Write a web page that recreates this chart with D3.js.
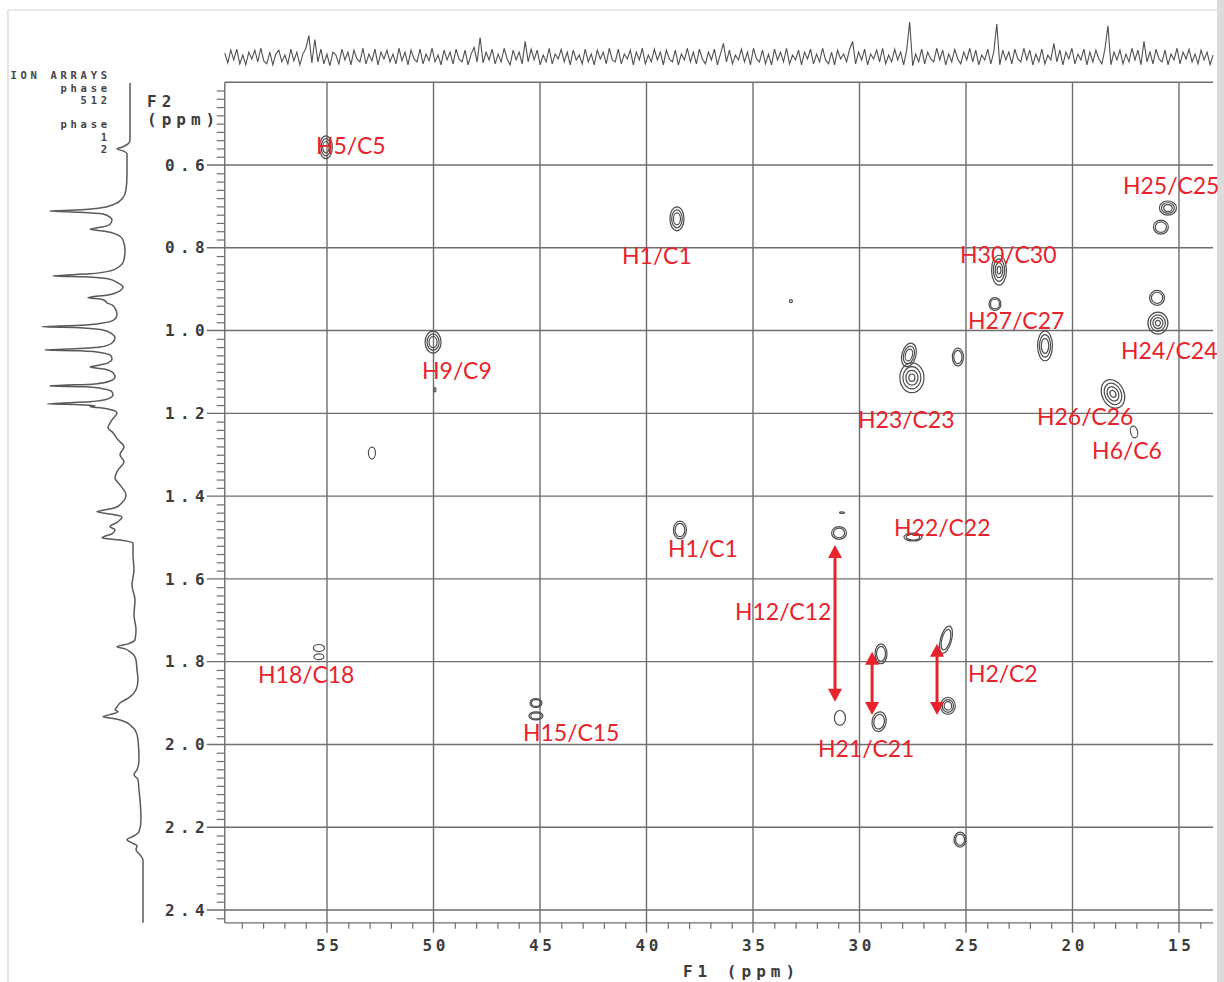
<!DOCTYPE html>
<html><head><meta charset="utf-8">
<script src="https://cdn.jsdelivr.net/npm/d3@7"></script>
<style>html,body{margin:0;padding:0;background:#fff;} svg{display:block;}</style>
</head><body>
<svg id="c" width="1224" height="982"></svg>
<script>
// ---------- data ----------
const f1Ticks = [55, 50, 45, 40, 35, 30, 25, 20, 15];
const f1TickLabels = ["55", "50", "45", "40", "35", "30", "25", "20", "15"];
const f2Ticks = [0.6, 0.8, 1.0, 1.2, 1.4, 1.6, 1.8, 2.0, 2.2, 2.4];
const f2TickLabels = ["0.6", "0.8", "1.0", "1.2", "1.4", "1.6", "1.8", "2.0", "2.2", "2.4"];
const f1Limits = [59.8, 13.4];
const f2Limits = [0.4, 2.431];
const headerLines = ["ION ARRAYS", "phase", "512", "phase", "1", "2"];
const axisTitleF2 = ["F2", "(ppm)"];
const axisTitleF1 = "F1 (ppm)";

// cross peaks: F1 ppm, F2 ppm, width (F1 ppm), height (F2 ppm), contour levels, tilt
const peakF1 = [55.05, 38.57, 33.22, 23.45, 23.64, 21.29, 15.52, 15.85, 16.03, 15.99, 50.02, 52.89, 27.54, 27.68, 25.38, 18.10, 17.11, 38.43, 30.96, 30.82, 27.49, 30.92, 28.99, 29.08, 25.94, 25.85, 55.38, 55.38, 45.19, 45.19, 25.28, 49.93];
const peakF2 = [0.557, 0.730, 0.929, 0.854, 0.936, 1.037, 0.704, 0.750, 0.921, 0.982, 1.028, 1.296, 1.114, 1.059, 1.064, 1.153, 1.245, 1.482, 1.489, 1.440, 1.499, 1.936, 1.781, 1.945, 1.747, 1.907, 1.767, 1.788, 1.900, 1.931, 2.230, 1.143];
const peakW  = [0.60, 0.66, 0.14, 0.70, 0.56, 0.70, 0.80, 0.70, 0.70, 0.94, 0.75, 0.33, 1.13, 0.66, 0.52, 1.03, 0.33, 0.61, 0.70, 0.23, 0.85, 0.52, 0.56, 0.66, 0.52, 0.70, 0.52, 0.47, 0.56, 0.66, 0.56, 0.09];
const peakH  = [0.055, 0.058, 0.007, 0.072, 0.031, 0.072, 0.034, 0.034, 0.036, 0.053, 0.053, 0.029, 0.072, 0.058, 0.043, 0.072, 0.029, 0.043, 0.031, 0.004, 0.019, 0.036, 0.048, 0.048, 0.068, 0.041, 0.017, 0.014, 0.022, 0.019, 0.036, 0.010];
const peakLevels = [3, 3, 1, 4, 2, 3, 3, 2, 2, 4, 3, 1, 4, 3, 2, 4, 1, 2, 2, 1, 2, 1, 2, 2, 2, 3, 1, 1, 2, 2, 2, 1];
const peakTilt = [0, 0, 0, 0, 0, 0, 0, 0, 0, 0, 0, 0, 0, 15, 0, -25, -15, 0, 0, 0, 0, 0, 0, 10, 15, 0, 0, 0, 0, 0, 0, 0];

// assignment labels: text, F1 ppm of left edge, F2 ppm of centre
const labelText = ["H5/C5", "H1/C1", "H30/C30", "H25/C25", "H27/C27", "H24/C24", "H9/C9", "H23/C23", "H26/C26", "H6/C6", "H1/C1", "H22/C22", "H12/C12", "H18/C18", "H2/C2", "H15/C15", "H21/C21"];
const labelF1 = [55.52, 41.15, 25.28, 17.63, 24.91, 17.72, 50.54, 30.07, 21.67, 19.08, 38.99, 28.38, 35.85, 58.24, 24.91, 45.80, 31.95];
const labelF2 = [0.554, 0.820, 0.817, 0.651, 0.977, 1.049, 1.098, 1.216, 1.209, 1.291, 1.528, 1.477, 1.680, 1.832, 1.829, 1.972, 2.011];

// double-headed arrows: F1 ppm, F2 start, F2 end
const arrowF1 = [31.15, 29.41, 26.36];
const arrowFrom = [1.518, 1.776, 1.757];
const arrowTo = [1.897, 1.929, 1.929];

// F2 projection (left): [F2 ppm, intensity]
const f2Trace = [[0.402,15],[0.443,15],[0.491,15],[0.540,15],[0.549,17],[0.557,23],[0.561,28],[0.566,22],[0.573,18],[0.588,18],[0.624,18],[0.660,19],[0.682,23],[0.694,30],[0.704,45],[0.709,70],[0.711,95],[0.714,65],[0.718,43],[0.726,35],[0.733,33],[0.743,35],[0.750,43],[0.755,55],[0.760,40],[0.767,29],[0.781,22],[0.805,20],[0.829,21],[0.844,25],[0.856,35],[0.863,55],[0.868,92],[0.870,60],[0.875,37],[0.885,27],[0.895,22],[0.904,25],[0.914,37],[0.921,57],[0.924,45],[0.928,40],[0.933,38],[0.938,33],[0.950,29],[0.962,28],[0.974,31],[0.983,45],[0.988,70],[0.991,103],[0.993,65],[0.998,43],[1.008,33],[1.018,30],[1.030,33],[1.040,45],[1.044,70],[1.047,100],[1.049,65],[1.054,42],[1.061,34],[1.069,33],[1.078,37],[1.083,45],[1.088,55],[1.093,41],[1.102,32],[1.112,30],[1.122,35],[1.129,50],[1.134,95],[1.136,60],[1.141,41],[1.148,33],[1.156,32],[1.165,37],[1.172,55],[1.177,98],[1.179,65],[1.182,50],[1.184,55],[1.187,43],[1.192,33],[1.199,28],[1.216,33],[1.235,37],[1.247,32],[1.264,27],[1.281,21],[1.300,25],[1.317,21],[1.337,27],[1.356,30],[1.373,25],[1.397,19],[1.416,23],[1.428,30],[1.436,45],[1.438,48],[1.443,35],[1.450,23],[1.462,27],[1.474,35],[1.481,30],[1.491,33],[1.498,41],[1.501,43],[1.506,25],[1.513,12],[1.542,12],[1.578,11],[1.615,13],[1.651,10],[1.687,11],[1.723,9],[1.747,10],[1.757,17],[1.764,28],[1.769,20],[1.776,15],[1.796,9],[1.820,8],[1.844,7],[1.868,9],[1.885,15],[1.900,25],[1.909,28],[1.916,30],[1.921,27],[1.928,35],[1.933,42],[1.938,30],[1.945,20],[1.955,14],[1.965,10],[1.989,7],[2.037,6],[2.061,8],[2.073,11],[2.085,7],[2.110,6],[2.134,5],[2.182,4],[2.211,6],[2.221,11],[2.230,18],[2.238,13],[2.245,8],[2.254,9],[2.267,5],[2.279,2],[2.327,2],[2.375,2],[2.431,2]];

// F1 projection (top): intensities, evenly sampled from 59.8 to 13.4 ppm
const f1Trace = [
4,-6,7,-3,8,-7,2,-8,5,-2,7,-5,9,-4,-7,5,-8,3,7,-5,2,-7,8,-4,5,-8,3,9,22,-6,
18,-5,8,-7,3,-9,5,2,-7,8,-3,5,-8,7,-2,-5,9,-7,3,-4,8,-8,5,-2,7,-5,3,-7,9,-4,
5,-8,7,-2,-5,8,-7,3,-4,9,-5,2,-8,7,-3,5,-7,8,-2,-5,7,-8,3,10,-5,20,-6,5,-3,8,
-7,3,-5,9,-2,-8,7,-3,5,-7,16,-5,8,-3,7,-8,2,-5,9,-7,3,-2,8,-5,5,-8,7,-3,2,-7,
8,-5,3,-8,7,-2,5,-7,9,-3,-5,8,-7,3,-2,7,-8,5,-3,9,-7,2,-5,8,-3,5,-8,7,-2,-5,
7,-8,3,-3,9,-5,5,-7,8,-2,-7,5,-3,8,-8,3,14,-5,7,-7,2,-3,8,-5,5,-8,9,-2,-5,7,
-7,3,-8,8,-3,5,-5,9,-7,2,-3,7,-8,5,-2,8,-7,3,-5,9,-3,-7,5,-8,7,-2,3,-5,8,16,
-7,5,-3,8,-8,3,-2,7,-5,9,-7,2,-5,8,-3,5,-8,7,36,-9,3,-5,8,-7,5,-2,-5,9,-3,7,
-8,3,-5,8,-2,-7,5,-3,9,-5,7,-8,2,-3,8,-7,5,34,-8,7,-3,5,-7,8,-2,-5,9,-3,7,-8,
3,-5,8,-7,2,-3,14,-5,7,-8,5,-2,9,-7,3,-3,8,-8,5,-5,7,-2,-7,8,32,-8,5,-3,7,-7,
3,-5,9,-3,7,-8,16,-5,5,-7,8,-2,-5,7,-8,3,-3,9,-7,5,-2,8,-5,3,-7,7,-3,5,-8,2];

// ---------- drawing ----------
const svg = d3.select("#c");
const x = d3.scaleLinear().domain([55, 15]).range([327, 1179]);
const y = d3.scaleLinear().domain([0.6, 2.4]).range([165, 910]);
const xL = x(f1Limits[0]), xR = x(f1Limits[1]);
const yT = y(f2Limits[0]), yB = y(f2Limits[1]);
const gridColor = "#6e6e6e";
const textColor = "#3c3c3c";
const mono = "'DejaVu Sans Mono', 'Liberation Mono', monospace";

svg.append("rect").attr("width", 1224).attr("height", 982).attr("fill", "#fff");
// screenshot border
svg.append("line").attr("x1", 8).attr("x2", 1217).attr("y1", 10).attr("y2", 10).attr("stroke", "#d4d4d4").attr("stroke-width", 1.2);
svg.append("line").attr("x1", 8).attr("x2", 8).attr("y1", 10).attr("y2", 982).attr("stroke", "#d4d4d4").attr("stroke-width", 1.2);
svg.append("rect").attr("x", 1217).attr("y", 0).attr("width", 7).attr("height", 982).attr("fill", "#dcdcdc");

// header text
const headerY = [79, 91.5, 104, 128, 140.5, 153];
const hls = 3.7;
svg.append("g").selectAll("text").data(headerLines).join("text")
  .attr("x", 107 + hls).attr("y", (d, i) => headerY[i])
  .attr("text-anchor", "end")
  .attr("font-family", mono).attr("font-weight", "bold").attr("font-size", 10.5)
  .attr("letter-spacing", hls).attr("fill", "#444").text(d => d);

// F2 title
svg.append("g").selectAll("text").data(axisTitleF2).join("text")
  .attr("x", 147).attr("y", (d, i) => [107, 125][i])
  .attr("font-family", mono).attr("font-weight", "bold").attr("font-size", 16)
  .attr("letter-spacing", 5).attr("fill", textColor).text(d => d);

// grid lines
const grid = svg.append("g").attr("stroke", gridColor).attr("stroke-width", 1.4);
grid.selectAll("line.v").data(f1Ticks).join("line").attr("class", "v")
  .attr("x1", d => x(d)).attr("x2", d => x(d)).attr("y1", yT).attr("y2", yB + 10);
grid.selectAll("line.h").data(f2Ticks).join("line").attr("class", "h")
  .attr("x1", xL - 18).attr("x2", xR).attr("y1", d => y(d)).attr("y2", d => y(d));
// frame
grid.append("line").attr("x1", xL).attr("x2", xR).attr("y1", yT).attr("y2", yT);
grid.append("line").attr("x1", xL).attr("x2", xR).attr("y1", yB).attr("y2", yB);
grid.append("line").attr("x1", xL).attr("x2", xL).attr("y1", yT).attr("y2", yB);

// minor ticks via d3 axes
const minorY = d3.range(20, 122, 1).map(k => +(k * 0.02).toFixed(2)).filter(v => Math.abs(v * 5 - Math.round(v * 5)) > 1e-6);
const yMinor = svg.append("g").attr("transform", `translate(${xL},0)`)
  .call(d3.axisLeft(y).tickValues(minorY).tickSize(8).tickFormat(""));
yMinor.select(".domain").remove();
yMinor.selectAll("line").attr("stroke", gridColor).attr("stroke-width", 1.2);

const minorX = d3.range(14, 60, 1).filter(v => v % 5 !== 0);
const xMinor = svg.append("g").attr("transform", `translate(0,${yB})`)
  .call(d3.axisBottom(x).tickValues(minorX).tickSize(6).tickFormat(""));
xMinor.select(".domain").remove();
xMinor.selectAll("line").attr("stroke", gridColor).attr("stroke-width", 1.2);

// tick labels via d3 axes
const yls = 5.4;
const yLab = svg.append("g").attr("transform", `translate(${xL},0)`)
  .call(d3.axisLeft(y).tickValues(f2Ticks).tickSize(0).tickPadding(20).tickFormat((d, i) => f2TickLabels[i]));
yLab.select(".domain").remove();
yLab.selectAll("text").attr("font-family", mono).attr("font-weight", "bold").attr("font-size", 16)
  .attr("letter-spacing", yls).attr("dx", yls).attr("fill", textColor);

const xls = 3.6;
const xLab = svg.append("g").attr("transform", `translate(0,${yB})`)
  .call(d3.axisBottom(x).tickValues(f1Ticks).tickSize(0).tickPadding(17).tickFormat((d, i) => f1TickLabels[i]));
xLab.select(".domain").remove();
xLab.selectAll("text").attr("font-family", mono).attr("font-weight", "bold").attr("font-size", 16)
  .attr("letter-spacing", xls).attr("dx", xls / 2).attr("fill", textColor);

svg.append("text").attr("x", 739 + 2.5).attr("y", 977).attr("text-anchor", "middle")
  .attr("font-family", mono).attr("font-weight", "bold").attr("font-size", 16)
  .attr("letter-spacing", 5).attr("fill", textColor).text(axisTitleF1);

// top projection
const idx = d3.scaleLinear().domain([0, f1Trace.length - 1]).range(f1Limits);
const sTop = d3.scaleLinear().domain([0, 36]).range([57, 22]);
svg.append("path").datum(f1Trace)
  .attr("d", d3.line().x((d, i) => x(idx(i))).y(d => sTop(d)))
  .attr("fill", "none").attr("stroke", "#505050").attr("stroke-width", 1.1);

// left projection
const sLeft = d3.scaleLinear().domain([0, 100]).range([145, 45]);
svg.append("path").datum(f2Trace)
  .attr("d", d3.line().x(d => sLeft(d[1])).y(d => y(d[0])).curve(d3.curveMonotoneY))
  .attr("fill", "none").attr("stroke", "#5a5a5a").attr("stroke-width", 1.5);

// contours
const cg = svg.append("g").attr("fill", "none").attr("stroke", "#4d4d4d").attr("stroke-width", 1.2);
peakF1.forEach((f1, i) => {
  const cx = x(f1), cy = y(peakF2[i]);
  const rx = Math.abs(x(f1 + peakW[i] / 2) - cx);
  const ry = Math.abs(y(peakF2[i] + peakH[i] / 2) - cy);
  const g = cg.append("g").attr("transform", `translate(${cx},${cy}) rotate(${peakTilt[i]})`);
  for (let k = 0; k < peakLevels[i]; k++) {
    const s = 1 - k * 0.25;
    g.append("ellipse").attr("rx", Math.max(rx * s, 0.6)).attr("ry", Math.max(ry * s, 0.6));
  }
});

// arrows
const red = "#e8232b";
const ag = svg.append("g");
arrowF1.forEach((f1, i) => {
  const ax = x(f1), y1 = y(arrowFrom[i]), y2 = y(arrowTo[i]);
  const hw = 7, hh = 13;
  ag.append("line").attr("x1", ax).attr("x2", ax).attr("y1", y1 + hh - 2).attr("y2", y2 - hh + 2)
    .attr("stroke", red).attr("stroke-width", 3);
  ag.append("path").attr("d", `M${ax},${y1} L${ax - hw},${y1 + hh} L${ax + hw},${y1 + hh} Z`).attr("fill", red);
  ag.append("path").attr("d", `M${ax},${y2} L${ax - hw},${y2 - hh} L${ax + hw},${y2 - hh} Z`).attr("fill", red);
});

// labels
svg.append("g").selectAll("text").data(labelText).join("text")
  .attr("x", (d, i) => x(labelF1[i])).attr("y", (d, i) => y(labelF2[i]))
  .attr("dy", "0.36em")
  .attr("font-family", "Lato, 'Open Sans', sans-serif").attr("font-size", 23)
  .attr("fill", red).text(d => d);
</script>
</body></html>
